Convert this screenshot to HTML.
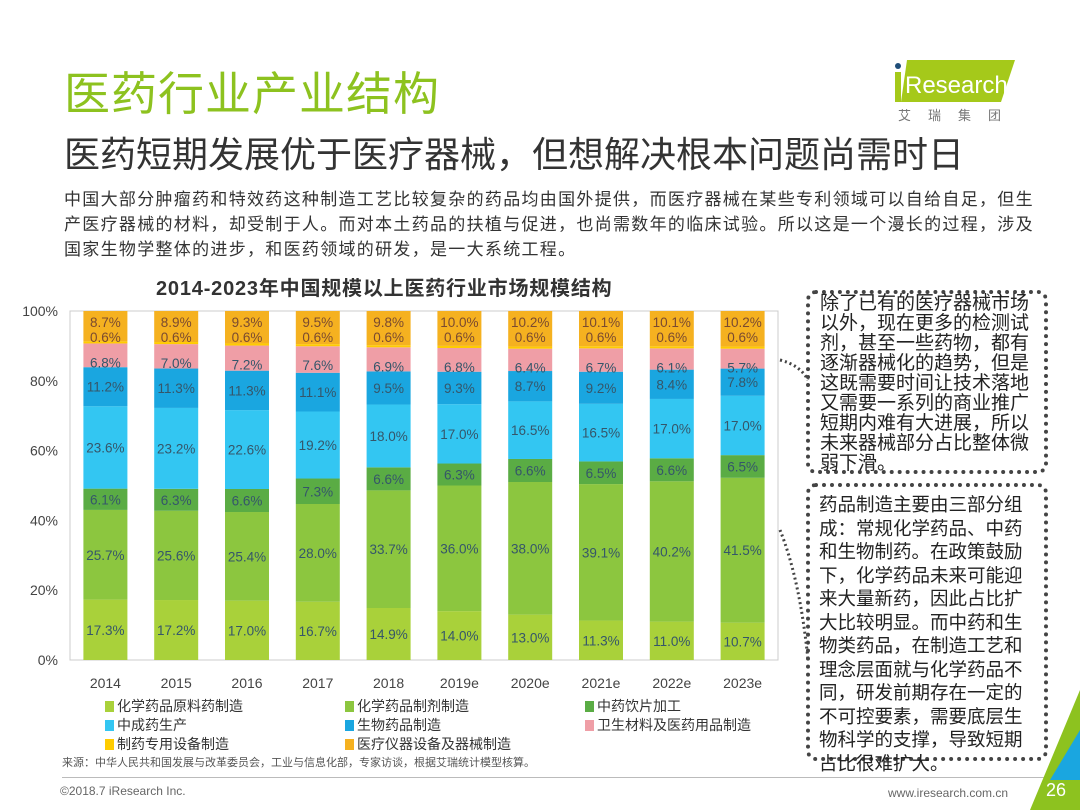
<!DOCTYPE html>
<html><head><meta charset="utf-8">
<style>
body{margin:0;width:1080px;height:810px;overflow:hidden;background:#fff;font-family:"Liberation Sans","Noto Sans CJK SC",sans-serif;position:relative}
.abs{position:absolute}
.t1{left:64px;top:58px;font-size:46px;color:#8dc21f;letter-spacing:1px}
.t2{left:64px;top:126px;font-size:36px;color:#333}
.para{left:64px;top:187px;font-size:17px;line-height:25px;color:#333;white-space:nowrap;letter-spacing:1.3px}
.ctitle{left:156px;top:272px;font-size:20px;font-weight:bold;color:#333;letter-spacing:0.8px}
.box{border:4px dotted #444;border-radius:10px;font-size:18.5px;color:#222;box-sizing:border-box}
.leg{font-size:14px;color:#333}
.sw{display:inline-block;width:9px;height:11px;margin-right:3px;vertical-align:-1px}
</style></head><body>
<div class="abs t1">医药行业产业结构</div>
<div class="abs t2">医药短期发展优于医疗器械，但想解决根本问题尚需时日</div>
<div class="abs para">中国大部分肿瘤药和特效药这种制造工艺比较复杂的药品均由国外提供，而医疗器械在某些专利领域可以自给自足，但生<br>产医疗器械的材料，却受制于人。而对本土药品的扶植与促进，也尚需数年的临床试验。所以这是一个漫长的过程，涉及<br>国家生物学整体的进步，和医药领域的研发，是一大系统工程。</div>
<div class="abs" style="left:893px;top:60px">
<svg width="130" height="62"><polygon points="14,0 122,0 108,42 8,42" fill="#a5c91a"/><circle cx="5" cy="6" r="3" fill="#1f4e79"/><rect x="2" y="12" width="6" height="30" fill="#a5c91a"/><text x="12" y="33" font-size="24" fill="#fff" font-family="Liberation Sans">Research</text><text x="5" y="60" font-size="13" fill="#777" font-family="Noto Sans CJK SC" letter-spacing="17">艾瑞集团</text></svg></div>
<div class="abs ctitle">2014-2023年中国规模以上医药行业市场规模结构</div>
<svg class="abs" style="left:0;top:0" width="1080" height="810" id="chart"></svg>
<div class="abs box" style="left:806px;top:290px;width:242px;height:184px;font-size:19px;line-height:20px;padding:0 4px 0 10px">除了已有的医疗器械市场以外，现在更多的检测试剂，甚至一些药物，都有逐渐器械化的趋势，但是这既需要时间让技术落地又需要一系列的商业推广短期内难有大进展，所以未来器械部分占比整体微弱下滑。</div>
<div class="abs box" style="left:806px;top:483px;width:242px;height:278px;padding:6px 6px 0 9px;line-height:23.5px">药品制造主要由三部分组成：常规化学药品、中药和生物制药。在政策鼓励下，化学药品未来可能迎来大量新药，因此占比扩大比较明显。而中药和生物类药品，在制造工艺和理念层面就与化学药品不同，研发前期存在一定的不可控要素，需要底层生物科学的支撑，导致短期占比很难扩大。</div>
<div class="abs leg" style="left:105px;top:697px;line-height:19px;width:700px">
<div style="position:absolute;left:0;top:0"><span class="sw" style="background:#a9d13a"></span>化学药品原料药制造</div>
<div style="position:absolute;left:240px;top:0"><span class="sw" style="background:#8cc63f"></span>化学药品制剂制造</div>
<div style="position:absolute;left:480px;top:0"><span class="sw" style="background:#5aac44"></span>中药饮片加工</div>
<div style="position:absolute;left:0;top:19px"><span class="sw" style="background:#33c6f2"></span>中成药生产</div>
<div style="position:absolute;left:240px;top:19px"><span class="sw" style="background:#1aa6e0"></span>生物药品制造</div>
<div style="position:absolute;left:480px;top:19px"><span class="sw" style="background:#ef9ea6"></span>卫生材料及医药用品制造</div>
<div style="position:absolute;left:0;top:38px"><span class="sw" style="background:#ffcc00"></span>制药专用设备制造</div>
<div style="position:absolute;left:240px;top:38px"><span class="sw" style="background:#f5b120"></span>医疗仪器设备及器械制造</div>
</div>
<div class="abs" style="left:62px;top:754px;font-size:11px;color:#555">来源：中华人民共和国发展与改革委员会，工业与信息化部，专家访谈，根据艾瑞统计模型核算。</div>
<div class="abs" style="left:62px;top:777px;width:990px;border-top:1px solid #bbb"></div>
<div class="abs" style="left:60px;top:784px;font-size:12px;color:#666">©2018.7 iResearch Inc.</div>
<div class="abs" style="left:888px;top:786px;font-size:12px;color:#666">www.iresearch.com.cn</div>
<svg class="abs" style="left:1030px;top:690px" width="50" height="120"><polygon points="50,0 50,120 0,120" fill="#8dc21f"/><polygon points="50,40 50,90 20,90" fill="#1aa6e0"/></svg>
<div class="abs" style="left:1046px;top:780px;font-size:18px;color:#fff">26</div>
<script>
const years=["2014","2015","2016","2017","2018","2019e","2020e","2021e","2022e","2023e"];
const sRaw=[17.3,17.2,17.0,16.7,14.9,14.0,13.0,11.3,11.0,10.7];
const sPrep=[25.7,25.6,25.4,28.0,33.7,36.0,38.0,39.1,40.2,41.5];
const sTcmPieces=[6.1,6.3,6.6,7.3,6.6,6.3,6.6,6.5,6.6,6.5];
const sTcmPatent=[23.6,23.2,22.6,19.2,18.0,17.0,16.5,16.5,17.0,17.0];
const sBio=[11.2,11.3,11.3,11.1,9.5,9.3,8.7,9.2,8.4,7.8];
const sHygiene=[6.8,7.0,7.2,7.6,6.9,6.8,6.4,6.7,6.1,5.7];
const sEquip=[0.6,0.6,0.6,0.6,0.6,0.6,0.6,0.6,0.6,0.6];
const sDevice=[8.7,8.9,9.3,9.5,9.8,10.0,10.2,10.1,10.1,10.2];
const yTicks=[0,20,40,60,80,100];
const series=[sRaw,sPrep,sTcmPieces,sTcmPatent,sBio,sHygiene,sEquip,sDevice];
const colors=["#a9d13a","#8cc63f","#5aac44","#33c6f2","#1aa6e0","#ef9ea6","#ffcc00","#f5b120"];
const svg=document.getElementById('chart');const NS="http://www.w3.org/2000/svg";
const x0=70,x1=778,yb=660,yt=311,bw=44;
const step=(x1-x0)/years.length;
const xc=i=>x0+step*(i+0.5);
const ys=v=>yb-(yb-yt)*v/100;
function mk(t,a){const e=document.createElementNS(NS,t);for(const k in a)e.setAttribute(k,a[k]);svg.appendChild(e);return e;}
const frame=mk('rect',{x:x0,y:yt,width:x1-x0,height:yb-yt,fill:'none',stroke:'#ccc'});


yTicks.forEach(t=>{const e=mk('text',{x:58,y:ys(t)+5,'text-anchor':'end','font-size':14,fill:'#444'});e.textContent=t+'%';

});
years.forEach((y,i)=>{
 const tot=series.reduce((s,a)=>s+a[i],0);let acc=0;
 series.forEach((a,k)=>{const v=a[i]*100/tot;const yT=ys(acc+v),yB=ys(acc);
  const r=mk('rect',{x:xc(i)-bw/2,y:yT,width:bw,height:yB-yT,fill:colors[k]});
  
  
  acc+=v;});
 acc=0;const cum=[];series.forEach(a=>{cum.push(acc);acc+=a[i]*100/tot;});
 series.forEach((a,k)=>{const v=a[i]*100/tot;let ly;
  if(k===7) ly=ys(100)+16; else if(k===6) ly=ys(100)+31; else if(k===5) ly=ys(cum[5]+v)+24; else ly=ys(cum[k]+v/2)+5;
  const t=mk('text',{x:xc(i),y:ly,'text-anchor':'middle','font-size':13.5,fill:k<6?'#35566a':'#7a4a30'});
  t.textContent=a[i].toFixed(1)+'%';
  
  });
 const xl=mk('text',{x:xc(i),y:688,'text-anchor':'middle','font-size':14,fill:'#444'});xl.textContent=y;
 
 
});
const c1=mk('path',{d:'M780,360 Q800,365 808,380',fill:'none',stroke:'#444','stroke-width':3,'stroke-dasharray':'2 3'});


const c2=mk('path',{d:'M780,530 Q800,580 808,660',fill:'none',stroke:'#444','stroke-width':3,'stroke-dasharray':'2 3'});


</script>
</body></html>
